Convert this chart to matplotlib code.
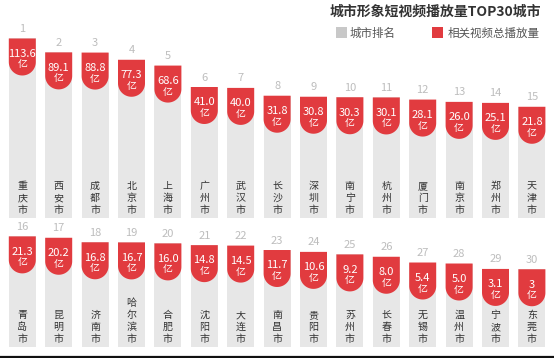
# 城市形象短视频播放量TOP30城市 - two rows of tagged columns
import numpy as np
import matplotlib
matplotlib.use('Agg')
import matplotlib.pyplot as plt
from matplotlib.patches import Polygon, Rectangle
from matplotlib.lines import Line2D

plt.rcParams['font.family'] = ['Noto Sans CJK SC', 'DejaVu Sans']
NARROW = ['Liberation Sans Narrow', 'Noto Sans CJK SC', 'DejaVu Sans']

cities = ['重庆市', '西安市', '成都市', '北京市', '上海市', '广州市', '武汉市', '长沙市',
          '深圳市', '南宁市', '杭州市', '厦门市', '南京市', '郑州市', '天津市',
          '青岛市', '昆明市', '济南市', '哈尔滨市', '合肥市', '沈阳市', '大连市', '南昌市',
          '贵阳市', '苏州市', '长春市', '无锡市', '温州市', '宁波市', '东莞市']
views = [113.6, 89.1, 88.8, 77.3, 68.6, 41.0, 40.0, 31.8, 30.8, 30.3, 30.1, 28.1, 26.0, 25.1, 21.8,
         21.3, 20.2, 16.8, 16.7, 16.0, 14.8, 14.5, 11.7, 10.6, 9.2, 8.0, 5.4, 5.0, 3.1, 3]
view_labels = ['113.6', '89.1', '88.8', '77.3', '68.6', '41.0', '40.0', '31.8', '30.8', '30.3',
               '30.1', '28.1', '26.0', '25.1', '21.8', '21.3', '20.2', '16.8', '16.7', '16.0',
               '14.8', '14.5', '11.7', '10.6', '9.2', '8.0', '5.4', '5.0', '3.1', '3']
ranks = list(range(1, 31))

RED = '#e13b3f'
BAR_GRAY = '#e7e7e7'
W, H = 554, 358

# column height in pixels (sqrt scale with an offset, like the original)
def col_height(v):
    return 58 + 11.4 * np.sqrt(np.asarray(v, dtype=float))

fig = plt.figure(figsize=(W / 100, H / 100), dpi=100)
fig.patch.set_facecolor('white')

step = 36.4   # px per bar slot
x0 = 22.3     # px, centre of first bar
bw = 27 / step
rx = bw / 2
ry = 13.5
rect_h = 23.5
theta = np.linspace(0, np.pi, 40)

rows = [(218, 218), (347, 130)]  # (bottom px, height px)
for r, (bottom_px, height_px) in enumerate(rows):
    ax = fig.add_axes([0, (H - bottom_px) / H, 1, height_px / H])
    ax.set_xlim(-x0 / step, (W - x0) / step)
    ax.set_ylim(0, height_px)
    ax.axis('off')

    sl = slice(15 * r, 15 * r + 15)
    x = np.arange(15)
    hs = col_height(views[sl])
    ax.bar(x, hs, width=bw, color=BAR_GRAY, linewidth=0)

    for xi, h, lab, rk, name in zip(x, hs, view_labels[sl], ranks[sl], cities[sl]):
        verts = [(xi - rx, h), (xi + rx, h), (xi + rx, h - rect_h)]
        verts += [(xi + rx * np.cos(t), h - rect_h - ry * np.sin(t)) for t in theta]
        ax.add_patch(Polygon(verts, closed=True, facecolor=RED, edgecolor='none'))

        ax.text(xi, h + 6.5, str(rk), ha='center', va='baseline', fontsize=8,
                color='#bdbdbd', family=NARROW)
        ax.text(xi, h - 18.3, lab, ha='center', va='baseline', fontsize=8,
                color='white', family=NARROW)
        ax.text(xi, h - 29, '亿', ha='center', va='baseline', fontsize=7.2, color='white')
        ax.text(xi, 3, '\n'.join(name), ha='center', va='bottom', fontsize=7.2,
                color='#333333', linespacing=1.25)

# title and legend
fig.text(541 / W, 1 - 12 / H, '城市形象短视频播放量TOP30城市', ha='right', va='center',
         fontsize=10, fontweight='bold', color='#333333')
fig.add_artist(Rectangle((336 / W, 1 - 38 / H), 10.5 / W, 10.5 / H,
                         transform=fig.transFigure, facecolor='#c8c8c8', edgecolor='none'))
fig.text(350 / W, 1 - 33 / H, '城市排名', ha='left', va='center', fontsize=8.3, color='#555555')
fig.add_artist(Rectangle((432 / W, 1 - 38 / H), 11 / W, 10.5 / H,
                         transform=fig.transFigure, facecolor=RED, edgecolor='none'))
fig.text(447.5 / W, 1 - 33 / H, '相关视频总播放量', ha='left', va='center', fontsize=8.3,
         color='#555555')

fig.add_artist(Line2D([0, 1], [1 - 356.5 / H, 1 - 356.5 / H], transform=fig.transFigure,
                      color='#111111', linewidth=1.6))

fig.savefig('out.png', dpi=100)
